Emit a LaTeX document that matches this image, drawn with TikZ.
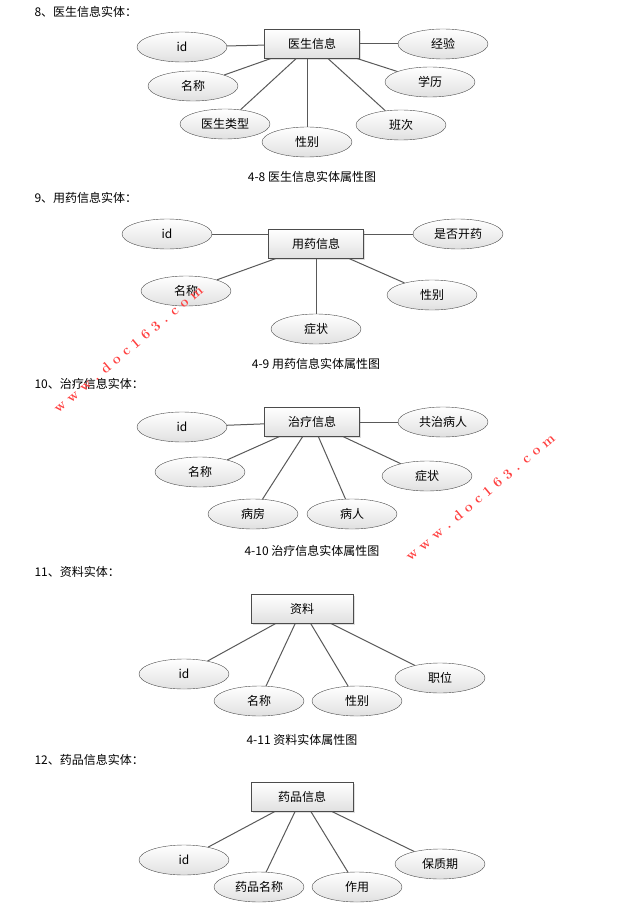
\documentclass[tikz,border=0pt]{standalone}
\usepackage{fontspec}
\newfontfamily\cjk{Noto Sans CJK SC}
\usetikzlibrary{shapes.geometric,shadows}
\tikzset{
    entity/.style = {draw = black!70, top color = white, bottom color = black!12,
        minimum width = 95pt, minimum height = 29pt, font = \cjk\fontsize{12}{14}\selectfont,
        drop shadow = {opacity = 0.25, shadow xshift = 1.5pt, shadow yshift = -1.5pt}},
    attr/.style = {ellipse, draw = black!70, top color = white, bottom color = black!12,
        minimum width = 90pt, minimum height = 30pt, inner sep = 0pt,
        font = \cjk\fontsize{12}{14}\selectfont},
    link/.style = {draw = black!65, line width = 1pt},
    title/.style = {anchor = west, font = \cjk\fontsize{12}{14}\selectfont},
    caption/.style = {font = \cjk\fontsize{12}{14}\selectfont},
    mark163/.style = {text = red!75, font = \bfseries\fontsize{14}{16}\selectfont, rotate = 40}
}
\begin{document}
\begin{tikzpicture}[x = 1pt, y = -1pt]
        \useasboundingbox (0, 0) rectangle (632, 920);
        % 8
        \node [title] (h8) at (31, 12) {8、医生信息实体：};
        \node [entity] (doctor) at (312, 44) {医生信息};
        \node [attr] (d1) at (182, 47) {id};
        \node [attr] (d2) at (443, 44) {经验};
        \node [attr] (d3) at (193, 86) {名称};
        \node [attr] (d4) at (430, 82) {学历};
        \node [attr] (d5) at (225, 124) {医生类型};
        \node [attr] (d6) at (307, 142) {性别};
        \node [attr] (d7) at (401, 125) {班次};
        \foreach \a in {d1, d2, d3, d4, d5, d7}
            \draw [link] (doctor) -- (\a);
        \draw [link] (doctor.south -| d6) -- (d6);
        \node [caption] (c8) at (312, 177) {4-8 医生信息实体属性图};
        % 9
        \node [title] (h9) at (31, 198) {9、用药信息实体：};
        \node [entity] (drug) at (316, 244) {用药信息};
        \node [attr] (u1) at (167, 234) {id};
        \node [attr] (u2) at (458, 234) {是否开药};
        \node [attr] (u3) at (186, 291) {名称};
        \node [attr] (u4) at (432, 295) {性别};
        \node [attr] (u5) at (316, 329) {症状};
        \draw [link] (drug.west |- u1) -- (u1);
        \draw [link] (drug.east |- u2) -- (u2);
        \foreach \a in {u3, u4, u5}
            \draw [link] (drug) -- (\a);
        \node [caption] (c9) at (316, 364) {4-9 用药信息实体属性图};
        % 10
        \node [title] (h10) at (31, 384) {10、治疗信息实体：};
        \node [entity] (cure) at (312, 422) {治疗信息};
        \node [attr] (t1) at (182, 427) {id};
        \node [attr] (t2) at (443, 422) {共治病人};
        \node [attr] (t3) at (200, 472) {名称};
        \node [attr] (t4) at (427, 476) {症状};
        \node [attr] (t5) at (253, 514) {病房};
        \node [attr] (t6) at (352, 514) {病人};
        \foreach \a in {t1, t2, t3, t4, t5, t6}
            \draw [link] (cure) -- (\a);
        \node [caption] (c10) at (312, 551) {4-10 治疗信息实体属性图};
        % 11
        \node [title] (h11) at (31, 572) {11、资料实体：};
        \node [entity, minimum width = 102pt] (info) at (302, 609) {资料};
        \node [attr] (i1) at (184, 674) {id};
        \node [attr] (i2) at (259, 701) {名称};
        \node [attr] (i3) at (357, 701) {性别};
        \node [attr] (i4) at (440, 678) {职位};
        \foreach \a in {i1, i2, i3, i4}
            \draw [link] (info) -- (\a);
        \node [caption] (c11) at (302, 740) {4-11 资料实体属性图};
        % 12
        \node [title] (h12) at (31, 760) {12、药品信息实体：};
        \node [entity, minimum width = 102pt] (med) at (302, 797) {药品信息};
        \node [attr] (m1) at (184, 860) {id};
        \node [attr] (m2) at (259, 887) {药品名称};
        \node [attr] (m3) at (357, 887) {作用};
        \node [attr] (m4) at (440, 864) {保质期};
        \foreach \a in {m1, m2, m3, m4}
            \draw [link] (med) -- (\a);
        % watermarks
        \node [mark163] (w1) at (128, 349) {w w w . d o c 1 6 3 . c o m};
        \node [mark163] (w2) at (480, 497) {w w w . d o c 1 6 3 . c o m};
    \end{tikzpicture}
\end{document}
